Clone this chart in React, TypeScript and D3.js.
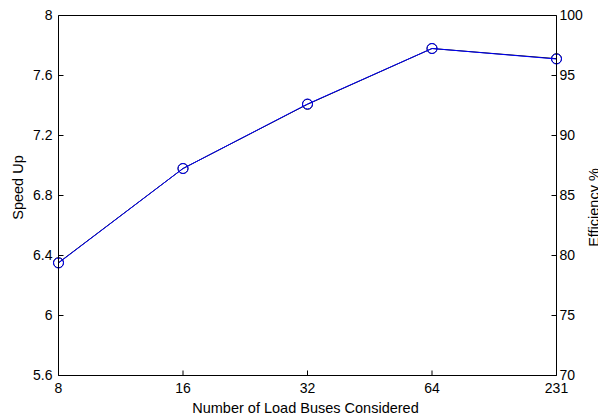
import React from "react";
import * as d3 from "d3";

const categories = ["8", "16", "32", "64", "231"];
const speedUp = [6.35, 6.98, 7.41, 7.78, 7.71];
const efficiency = [79.4, 87.25, 92.6, 97.25, 96.4];
const leftTicks = [5.6, 6, 6.4, 6.8, 7.2, 7.6, 8];
const rightTicks = [70, 75, 80, 85, 90, 95, 100];

export default function App() {
  const W = 598, H = 415;
  const m = { left: 58.5, right: 556.5, top: 15.5, bottom: 375.5 };
  const x = d3.scalePoint<string>().domain(categories).range([m.left, m.right]);
  const yL = d3.scaleLinear().domain([5.6, 8]).range([m.bottom, m.top]);
  const yR = d3.scaleLinear().domain([70, 100]).range([m.bottom, m.top]);
  const lineL = d3.line<number>().x((_, i) => x(categories[i])!).y((d) => yL(d));
  const lineR = d3.line<number>().x((_, i) => x(categories[i])!).y((d) => yR(d));
  const font = "Liberation Sans, Arial, sans-serif";
  return (
    <svg width={W} height={H} style={{ position: "absolute", left: 0, top: 0, background: "#fff" }}
      fontFamily={font} fontSize={14}>
      <rect x={0} y={0} width={W} height={H} fill="#fff" />
      <path d={lineR(efficiency)!} fill="none" stroke="#000" strokeWidth={1} />
      {efficiency.map((v, i) => (
        <circle key={"r" + i} cx={x(categories[i])} cy={yR(v)} r={5} fill="none" stroke="#000" strokeWidth={1} />
      ))}
      <path d={lineL(speedUp)!} fill="none" stroke="#0000ff" strokeWidth={1} />
      {speedUp.map((v, i) => (
        <circle key={"l" + i} cx={x(categories[i])} cy={yL(v)} r={5} fill="none" stroke="#0000ff" strokeWidth={1} />
      ))}
      {/* box */}
      <line x1={m.left} x2={m.right} y1={m.top} y2={m.top} stroke="#000" />
      <line x1={m.left} x2={m.right} y1={m.bottom} y2={m.bottom} stroke="#000" />
      <line x1={m.left} x2={m.left} y1={m.top} y2={m.bottom} stroke="#000" />
      <line x1={m.right} x2={m.right} y1={m.top} y2={m.bottom} stroke="#000" />
      {/* left ticks */}
      {leftTicks.map((t) => (
        <g key={"lt" + t}>
          <line x1={m.left} x2={m.left + 5} y1={yL(t)} y2={yL(t)} stroke="#000" />
          <text x={m.left - 6} y={yL(t)} dy="0.35em" textAnchor="end">{String(t)}</text>
        </g>
      ))}
      {/* right ticks */}
      {rightTicks.map((t) => (
        <g key={"rt" + t}>
          <line x1={m.right - 5} x2={m.right} y1={yR(t)} y2={yR(t)} stroke="#000" />
          <text x={m.right + 3} y={yR(t)} dy="0.35em" textAnchor="start">{String(t)}</text>
        </g>
      ))}
      {/* x ticks */}
      {categories.map((c) => (
        <g key={"xt" + c}>
          <line x1={x(c)} x2={x(c)} y1={m.bottom} y2={m.bottom - 5} stroke="#000" />
          <text x={x(c)} y={m.bottom + 17.5} textAnchor="middle">{c}</text>
        </g>
      ))}
      <text x={305.5} y={412.5} textAnchor="middle" fontSize={14.5}>Number of Load Buses Considered</text>
      <text transform={`translate(23,187.5) rotate(-90)`} textAnchor="middle" fontSize={14.5}>Speed Up</text>
      <text transform={`translate(599,207.5) rotate(-90)`} textAnchor="middle" fontSize={14.5}>Efficiency %</text>
    </svg>
  );
}
